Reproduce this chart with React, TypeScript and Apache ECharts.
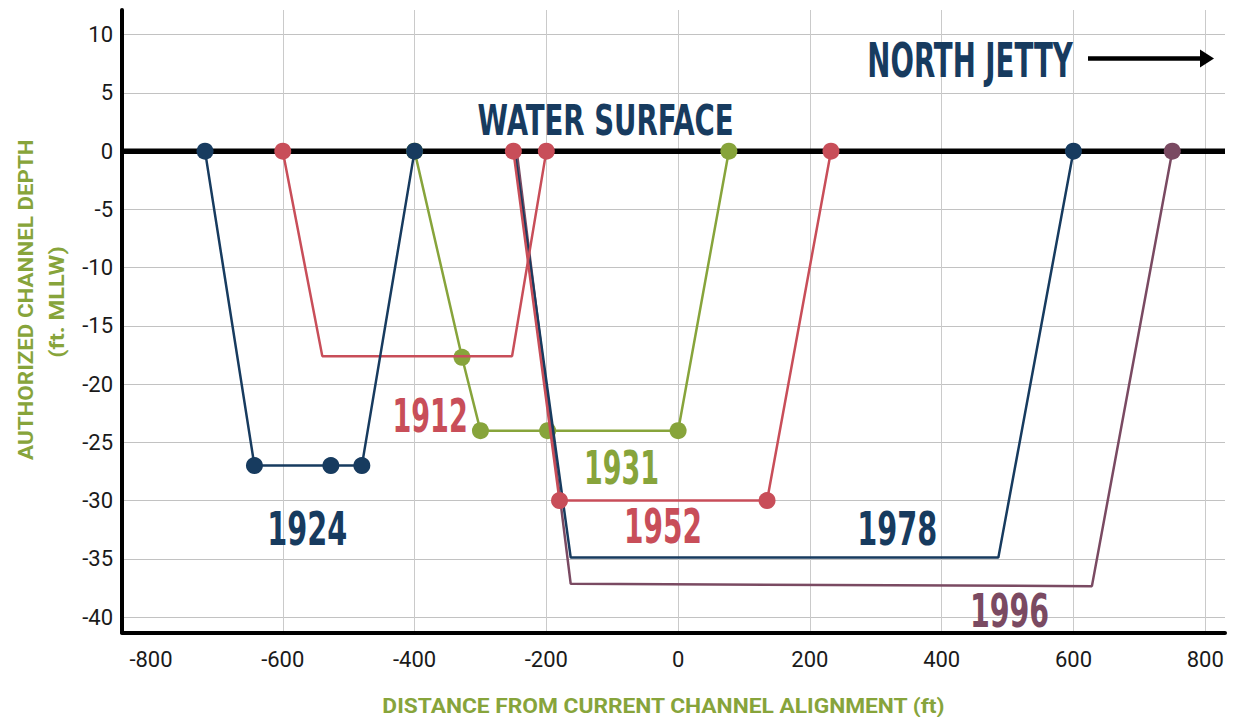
import React, { useEffect, useRef } from "react";
import * as echarts from "echarts";

// Axis extents and ticks
const X_MIN = -844;
const X_MAX = 830;
const Y_MIN = -41.33;
const Y_MAX = 12.12;
const xTickValues = [-800, -600, -400, -200, 0, 200, 400, 600, 800];
const xGridValues = [-600, -400, -200, 0, 200, 400, 600, 800];
const yTickValues = [-40, -35, -30, -25, -20, -15, -10, -5, 0, 5, 10];

// Channel cross-sections: distance (ft) and depth (ft MLLW); dots marks which vertices show a marker
const x1912 = [-600, -540, -252, -200];
const y1912 = [0, -17.6, -17.6, 0];
const dots1912 = [1, 0, 0, 1];

const x1924 = [-718, -643, -527, -480, -400];
const y1924 = [0, -27, -27, -27, 0];
const dots1924 = [1, 1, 1, 1, 1];

const x1931 = [-400, -328, -300, -198, 0, 77];
const y1931 = [0, -17.7, -24, -24, -24, 0];
const dots1931 = [1, 1, 1, 1, 1, 1];

const x1952 = [-250, -180, 135, 232];
const y1952 = [0, -30, -30, 0];
const dots1952 = [1, 1, 1, 1];

const x1978 = [-248, -163, 486, 600];
const y1978 = [0, -34.9, -34.9, 0];
const dots1978 = [0, 0, 0, 1];

const x1996 = [-245, -163, 628, 750];
const y1996 = [0, -37.15, -37.35, 0];
const dots1996 = [0, 0, 0, 1];

const years = ["1931", "1996", "1978", "1952", "1912", "1924"];

const NAVY = "#173b5f";
const RED = "#c84e59";
const GREEN = "#87a43b";
const MAUVE = "#7a4a62";

const COND = '"Liberation Sans Narrow", "DejaVu Sans Condensed", sans-serif';
const ROBOTO = "Roboto, sans-serif";

function capSize(family: string, weight: string, capPx: number) {
  const ctx = document.createElement("canvas").getContext("2d")!;
  ctx.font = `${weight} 100px ${family}`;
  const r = ctx.measureText("H").actualBoundingBoxAscent / 100;
  return capPx / (r || 0.716);
}

function fitText(
  text: string,
  family: string,
  weight: string,
  size: number,
  inkW: number,
  cx: number,
  cy: number,
  color: string,
  rotated = false
) {
  const ctx = document.createElement("canvas").getContext("2d")!;
  ctx.font = `${weight} ${size}px ${family}`;
  ctx.textAlign = "center";
  const m = ctx.measureText(text);
  const hm = ctx.measureText("H");
  const ink = m.actualBoundingBoxLeft + m.actualBoundingBoxRight;
  const scale = ink > 0 ? inkW / ink : 1;
  const along = ((m.actualBoundingBoxRight - m.actualBoundingBoxLeft) / 2) * scale;
  const fbA = (hm as any).fontBoundingBoxAscent ?? size * 0.9;
  const fbD = (hm as any).fontBoundingBoxDescent ?? size * 0.2;
  const across = (fbA - fbD) / 2 - hm.actualBoundingBoxAscent / 2;
  const style = {
    text,
    fontSize: size,
    fontFamily: family,
    fontWeight: weight,
    fill: color,
    align: "center",
    verticalAlign: "middle",
    textAlign: "center",
    textVerticalAlign: "middle",
  };
  if (rotated) {
    return {
      type: "text",
      x: cx - across,
      y: cy + along,
      rotation: Math.PI / 2,
      scaleX: scale,
      z: 100,
      silent: true,
      style,
    };
  }
  return {
    type: "text",
    x: cx - along,
    y: cy - across,
    scaleX: scale,
    z: 100,
    silent: true,
    style,
  };
}

function makeSeries(name: string, xs: number[], ys: number[], dots: number[], color: string, z: number) {
  return {
    type: "line",
    name,
    data: xs.map((x, i) => ({ value: [x, ys[i]], symbol: dots[i] ? "circle" : "none" })),
    symbol: "circle",
    symbolSize: 17,
    showSymbol: true,
    lineStyle: { color, width: 2.5 },
    itemStyle: { color, borderWidth: 0 },
    emphasis: { disabled: true },
    z,
  };
}

export default function App() {
  const ref = useRef<HTMLDivElement>(null);

  useEffect(() => {
    document.body.style.margin = "0";
    if (!ref.current) return;
    const chart = echarts.init(ref.current, undefined, { renderer: "svg" });

    const defs: Record<string, [number[], number[], number[], string]> = {
      "1912": [x1912, y1912, dots1912, RED],
      "1924": [x1924, y1924, dots1924, NAVY],
      "1931": [x1931, y1931, dots1931, GREEN],
      "1952": [x1952, y1952, dots1952, RED],
      "1978": [x1978, y1978, dots1978, NAVY],
      "1996": [x1996, y1996, dots1996, MAUVE],
    };

    const series: any[] = [
      {
        type: "line",
        name: "Water surface",
        data: [
          [X_MIN, 0],
          [X_MAX, 0],
        ],
        symbol: "none",
        lineStyle: { color: "#000", width: 5.5 },
        emphasis: { disabled: true },
        z: 2,
      },
      ...years.map((y, i) => {
        const [xs, ys, ds, c] = defs[y];
        return makeSeries(y, xs, ys, ds, c, 3 + i);
      }),
    ];

    const bigYear = capSize(COND, "bold", 33.5);
    const titleSize = capSize(ROBOTO, "bold", 15);

    const graphic: any[] = [
      fitText("NORTH JETTY", COND, "bold", capSize(COND, "bold", 35), 204, 971.3, 59.2, NAVY),
      fitText("WATER SURFACE", COND, "bold", capSize(COND, "bold", 31.7), 253.4, 605, 119.2, NAVY),
      fitText("1912", COND, "bold", bigYear, 71, 430.5, 414.7, RED),
      fitText("1931", COND, "bold", bigYear, 70.6, 622, 466.7, GREEN),
      fitText("1952", COND, "bold", capSize(COND, "bold", 35), 73.3, 663.3, 525.8, RED),
      fitText("1924", COND, "bold", bigYear, 76, 308, 528, NAVY),
      fitText("1978", COND, "bold", bigYear, 76, 898, 528, NAVY),
      fitText("1996", COND, "bold", bigYear, 75.3, 1010.3, 610, MAUVE),
      fitText("DISTANCE FROM CURRENT CHANNEL ALIGNMENT (ft)", ROBOTO, "bold", titleSize, 562.3, 663.8, 705.8, GREEN),
      fitText("AUTHORIZED CHANNEL DEPTH", ROBOTO, "bold", titleSize, 320, 25.5, 300, GREEN, true),
      fitText("(ft. MLLW)", ROBOTO, "bold", titleSize, 110, 56.5, 301.7, GREEN, true),
      {
        type: "line",
        z: 100,
        silent: true,
        shape: { x1: 1088, y1: 58.5, x2: 1203, y2: 58.5 },
        style: { stroke: "#000", lineWidth: 4.5 },
      },
      {
        type: "polygon",
        z: 100,
        silent: true,
        shape: {
          points: [
            [1200, 49.5],
            [1214, 58.5],
            [1200, 67.5],
          ],
        },
        style: { fill: "#000" },
      },
    ];

    chart.setOption({
      animation: false,
      backgroundColor: "#fff",
      grid: { left: 122, right: 13, top: 10, bottom: 84.5, containLabel: false },
      xAxis: {
        type: "value",
        min: X_MIN,
        max: X_MAX,
        axisLine: { show: true, onZero: false, lineStyle: { color: "#000", width: 4 } },
        axisTick: { show: false, customValues: xGridValues },
        axisLabel: {
          customValues: xTickValues,
          margin: 16,
          color: "#1a1a1a",
          fontSize: 22,
          fontFamily: ROBOTO,
        },
        splitLine: { show: true, lineStyle: { color: "#cacaca", width: 1 } },
      },
      yAxis: {
        type: "value",
        min: Y_MIN,
        max: Y_MAX,
        axisLine: { show: true, onZero: false, lineStyle: { color: "#000", width: 4 } },
        axisTick: { show: false, customValues: yTickValues },
        axisLabel: {
          customValues: yTickValues,
          margin: 9,
          color: "#1a1a1a",
          fontSize: 22,
          fontFamily: ROBOTO,
        },
        splitLine: { show: true, lineStyle: { color: "#c2c2c2", width: 1 } },
      },
      series,
      graphic,
    });

    return () => chart.dispose();
  }, []);

  return <div ref={ref} style={{ width: 1238, height: 717 }} />;
}
